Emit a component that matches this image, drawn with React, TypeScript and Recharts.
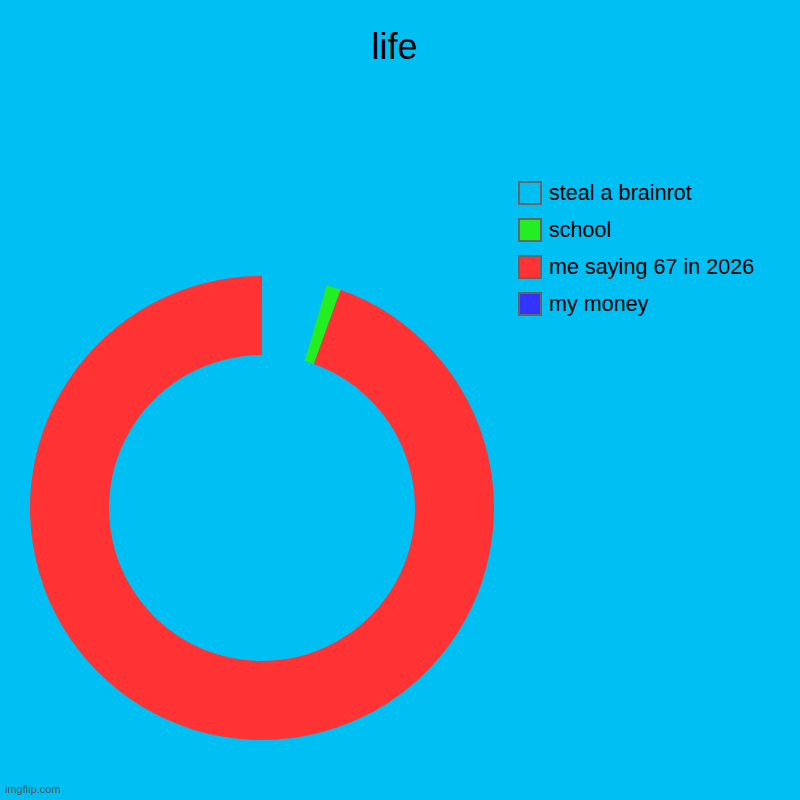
import { PieChart, Pie, Cell, Legend } from "recharts";

const categories = ["steal a brainrot", "school", "me saying 67 in 2026", "my money"];
const values = [4.5, 1, 94.5, 0];
const colors = ["#00BFF3", "#22EE22", "#FF3333", "#3333FF"];

const BG = "#00BFF3";
const FONT = "'Liberation Sans', Arial, sans-serif";

const data = categories.map((name, i) => ({ name, value: values[i] }));

function LegendBox() {
  return (
    <div style={{ fontFamily: FONT }}>
      {categories.map((name, i) => (
        <div key={name} style={{ display: "flex", alignItems: "center", height: 37 }}>
          <div
            style={{
              width: 20,
              height: 20,
              background: colors[i],
              border: "2px solid #666",
              marginRight: 7,
            }}
          />
          <span style={{ fontSize: 21.6, color: "#000" }}>{name}</span>
        </div>
      ))}
    </div>
  );
}

export default function App() {
  return (
    <div
      style={{
        position: "absolute",
        left: 0,
        top: 0,
        width: 800,
        height: 800,
        background: BG,
        fontFamily: FONT,
        overflow: "hidden",
      }}
    >
      <div
        style={{
          position: "absolute",
          left: 0,
          width: 789,
          top: 26,
          textAlign: "center",
          fontSize: 36,
          color: "#000",
        }}
      >
        life
      </div>
      <PieChart
        width={800}
        height={800}
        margin={{ top: 0, right: 0, bottom: 0, left: 0 }}
        style={{ position: "absolute", left: 0, top: 0 }}
      >
        <Pie
          data={data}
          dataKey="value"
          nameKey="name"
          cx={262}
          cy={508}
          outerRadius={232}
          innerRadius={153}
          startAngle={90}
          endAngle={-270}
          stroke="none"
          isAnimationActive={false}
        >
          {data.map((d, i) => (
            <Cell key={d.name} fill={colors[i]} />
          ))}
        </Pie>
        <Legend
          content={() => <LegendBox />}
          wrapperStyle={{ position: "absolute", left: 518, top: 174, width: 270 }}
        />
      </PieChart>
      <div
        style={{
          position: "absolute",
          left: 5,
          top: 783,
          fontSize: 11,
          color: "#555",
        }}
      >
        imgflip.com
      </div>
    </div>
  );
}
